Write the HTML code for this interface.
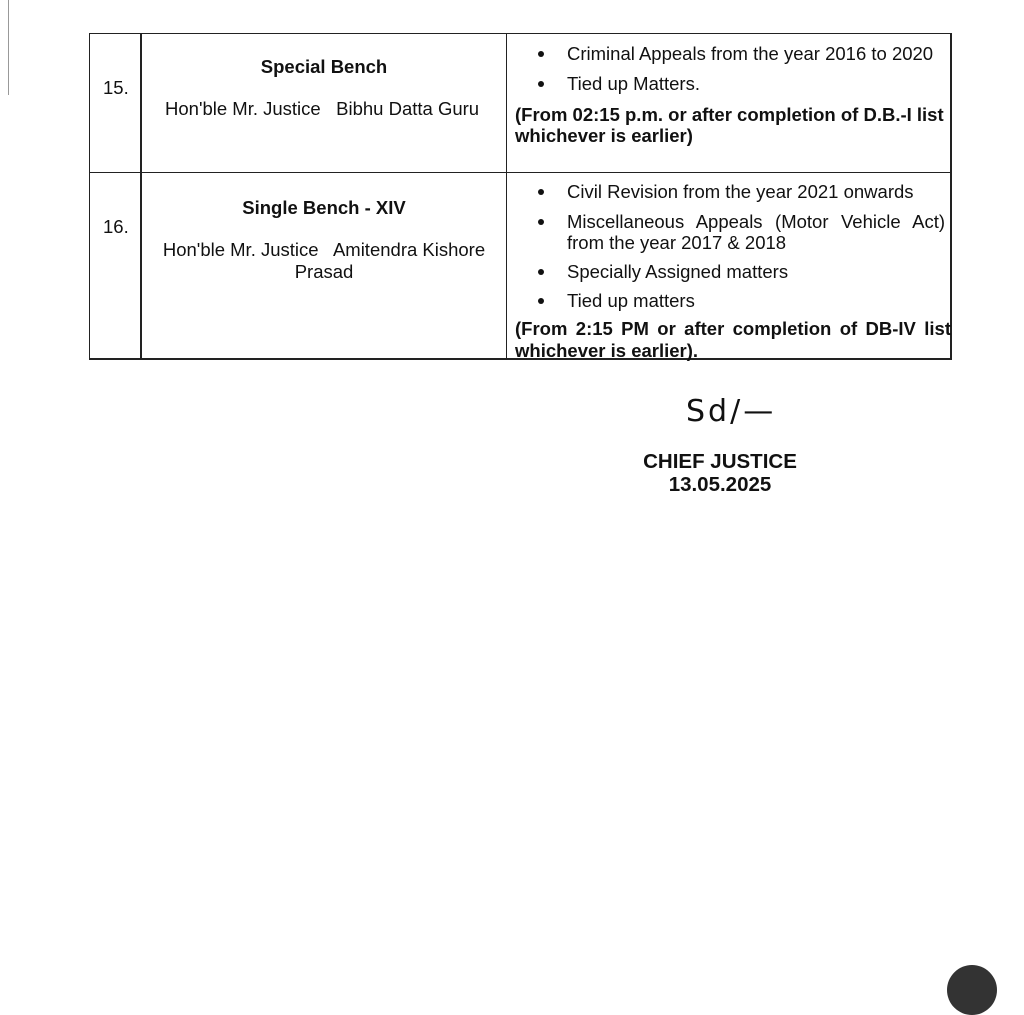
<!DOCTYPE html>
<html><head><meta charset="utf-8"><style>
body{margin:0;width:1024px;height:976px;background:#fff;position:relative;overflow:hidden;font-family:"Liberation Sans",Arial,sans-serif;color:#111;}
.a{position:absolute;white-space:nowrap;font-size:18.5px;line-height:21px;}
.b{font-weight:bold;}
.j{text-align:justify;text-align-last:justify;}
.l{position:absolute;background:#222;}
.c{text-align:center;}
.dot{position:absolute;width:6px;height:6px;border-radius:50%;background:#111;}
</style></head><body>
<div class="l" style="left:8px;top:0;width:1px;height:95px;background:#999"></div>
<div class="l" style="left:89px;top:33px;width:863px;height:1px"></div>
<div class="l" style="left:89px;top:172px;width:863px;height:1px"></div>
<div class="l" style="left:89px;top:358px;width:863px;height:2px"></div>
<div class="l" style="left:89px;top:33px;width:1px;height:327px"></div>
<div class="l" style="left:140px;top:33px;width:2px;height:327px"></div>
<div class="l" style="left:506px;top:33px;width:1px;height:327px"></div>
<div class="l" style="left:950px;top:33px;width:2px;height:327px"></div>

<div class="a" style="left:103px;top:77px">15.</div>
<div class="a b c" style="left:141px;width:366px;top:56px">Special Bench</div>
<div class="a" style="left:165px;top:98px">Hon'ble Mr. Justice&nbsp;&nbsp; Bibhu Datta Guru</div>

<div class="dot" style="left:538px;top:51px"></div>
<div class="a" style="left:567px;top:43px">Criminal Appeals from the year 2016 to 2020</div>
<div class="dot" style="left:538px;top:81px"></div>
<div class="a" style="left:567px;top:73px">Tied up Matters.</div>
<div class="a b" style="left:515px;top:104px">(From 02:15 p.m. or after completion of D.B.-I list</div>
<div class="a b" style="left:515px;top:125px">whichever is earlier)</div>

<div class="a" style="left:103px;top:216px">16.</div>
<div class="a b c" style="left:141px;width:366px;top:197px">Single Bench - XIV</div>
<div class="a c" style="left:141px;width:366px;top:239px">Hon'ble Mr. Justice&nbsp;&nbsp; Amitendra Kishore</div>
<div class="a c" style="left:141px;width:366px;top:261px">Prasad</div>

<div class="dot" style="left:538px;top:189px"></div>
<div class="a" style="left:567px;top:181px">Civil Revision from the year 2021 onwards</div>
<div class="dot" style="left:538px;top:219px"></div>
<div class="a j" style="left:567px;width:378px;top:211px">Miscellaneous Appeals (Motor Vehicle Act)</div>
<div class="a" style="left:567px;top:232px">from the year 2017 &amp; 2018</div>
<div class="dot" style="left:538px;top:269px"></div>
<div class="a" style="left:567px;top:261px">Specially Assigned matters</div>
<div class="dot" style="left:538px;top:298px"></div>
<div class="a" style="left:567px;top:290px">Tied up matters</div>
<div class="a b j" style="left:515px;width:436px;top:318px">(From 2:15 PM or after completion of DB-IV list</div>
<div class="a b" style="left:515px;top:340px">whichever is earlier).</div>

<div class="a" style="left:686px;top:396px;font-family:'DejaVu Sans',sans-serif;font-size:30px;line-height:32px;letter-spacing:3px">Sd/—</div>
<div class="a b c" style="left:620px;width:200px;top:451px;font-size:20.5px;line-height:22px">CHIEF JUSTICE</div>
<div class="a b c" style="left:620px;width:200px;top:474px;font-size:20.5px;line-height:22px">13.05.2025</div>

<div style="position:absolute;left:947px;top:965px;width:50px;height:50px;border-radius:50%;background:#333"></div>
</body></html>
